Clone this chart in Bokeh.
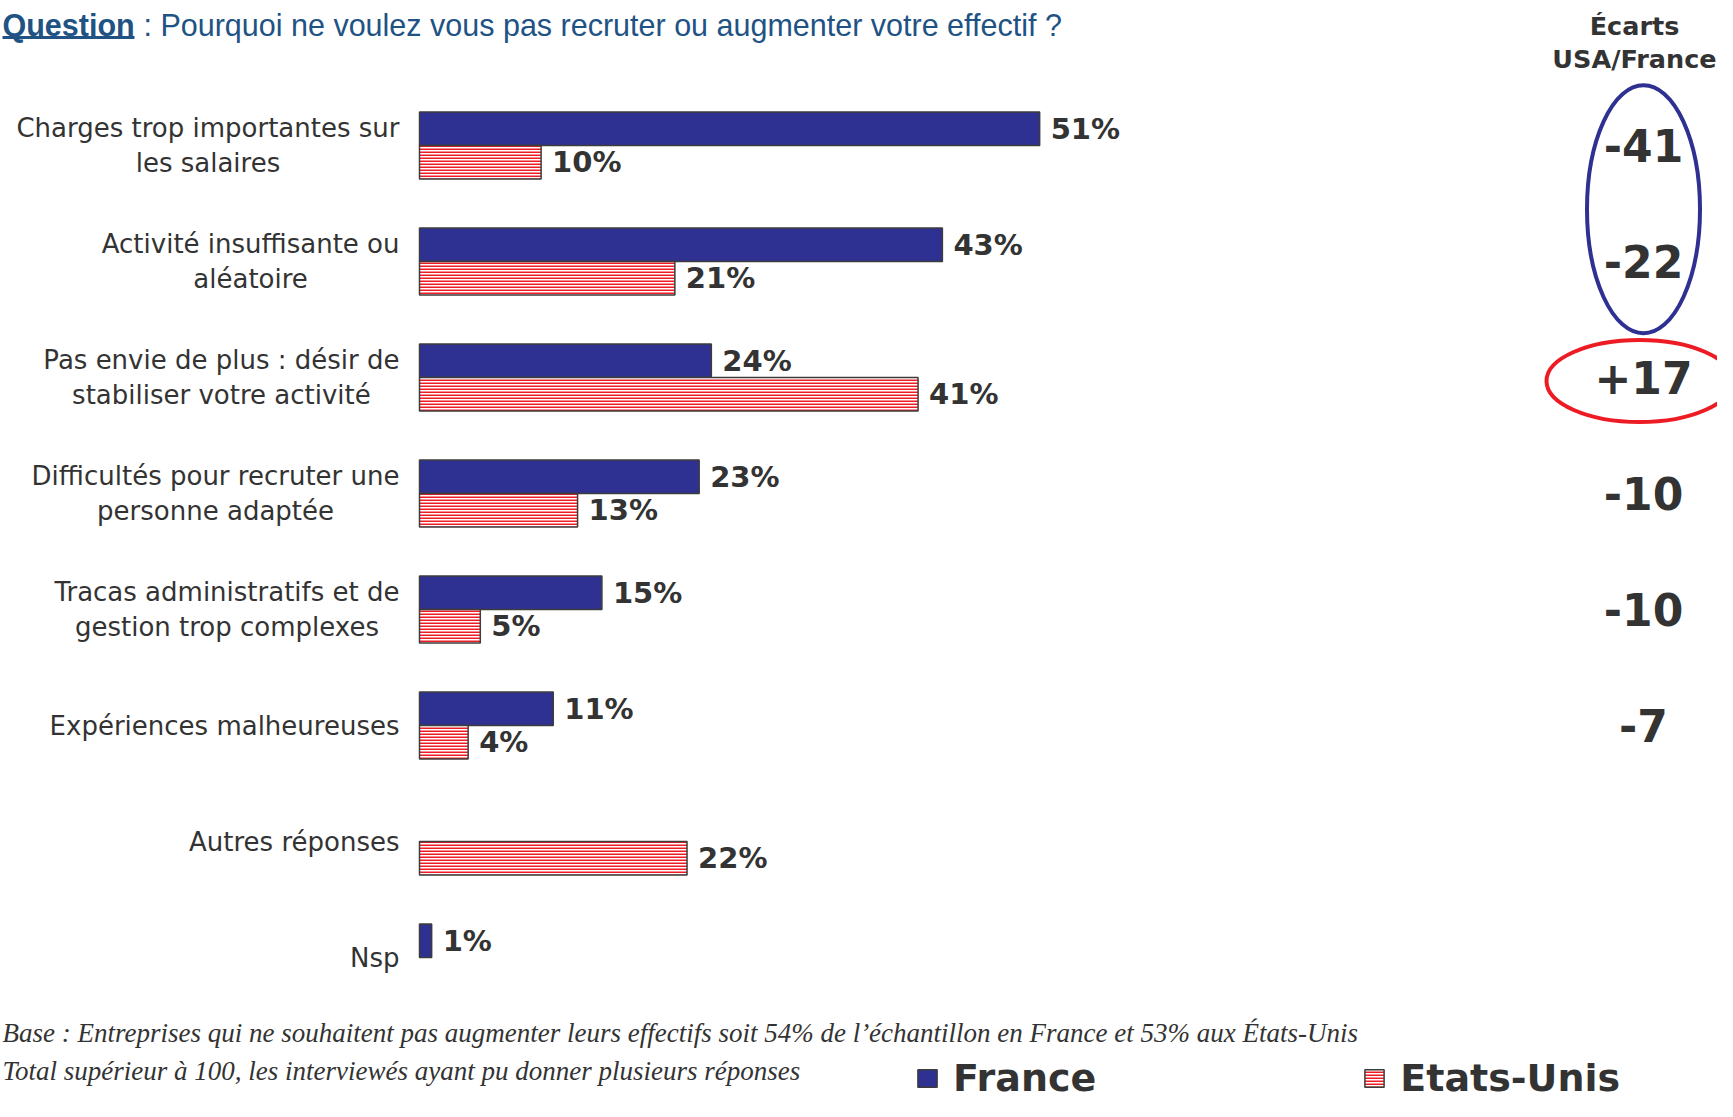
from bokeh.plotting import figure
from bokeh.models import Range1d, ColumnDataSource, Label, Legend, LegendItem
from bokeh.embed import file_html
from bokeh.resources import INLINE
from bokeh.core.properties import value

# ---------------- data ----------------
categories = [
    "Charges trop importantes sur\nles salaires",
    "Activité insuffisante ou\naléatoire",
    "Pas envie de plus : désir de\nstabiliser votre activité",
    "Difficultés pour recruter une\npersonne adaptée",
    "Tracas administratifs et de\ngestion trop complexes",
    "Expériences malheureuses",
    "Autres réponses",
    "Nsp",
]
france = [51, 43, 24, 23, 15, 11, None, 1]
usa = [10, 21, 41, 13, 5, 4, 22, None]
ecarts = ["-41", "-22", "+17", "-10", "-10", "-7"]
series_names = ["France", "Etats-Unis"]
ecart_title = "Écarts\nUSA/France"
question_word = "Question"
question_text = ": Pourquoi ne voulez vous pas recruter ou augmenter votre effectif ?"
note_lines = [
    "Base : Entreprises qui ne souhaitent pas augmenter leurs effectifs soit 54% de l\u2019échantillon en France et 53% aux États-Unis",
    "Total supérieur à 100, les interviewés ayant pu donner plusieurs réponses",
]

# ---------------- layout constants ----------------
W, H = 1717, 1101
PX_PCT = 12.16      # pixels per percentage point
X0 = 419            # pixel position of 0%
GROUP_PX = 116      # pixels per category
Y0 = 145            # pixel position of first category
BAR_H = 0.289
ECART_X = (1643 - X0) / PX_PCT
HEAD_X = (1634 - X0) / PX_PCT

FONT = "DejaVu Sans"
TXT = "#333333"
BLUE = "#2E3192"
RED = "#ED1C24"

p = figure(width=W, height=H,
           x_range=Range1d(-X0 / PX_PCT, (W - X0) / PX_PCT),
           y_range=Range1d((H - Y0) / GROUP_PX, -Y0 / GROUP_PX),
           output_backend="svg", toolbar_location=None, min_border=0,
           x_axis_location=None, y_axis_location=None,
           outline_line_color=None, background_fill_color="white",
           border_fill_color="white")
p.xgrid.visible = False
p.ygrid.visible = False

fr_idx = [i for i, v in enumerate(france) if v is not None]
us_idx = [i for i, v in enumerate(usa) if v is not None]
fr_src = ColumnDataSource(dict(
    y=[i - BAR_H / 2 for i in fr_idx],
    v=[france[i] for i in fr_idx],
    lab=[f"{france[i]}%" for i in fr_idx]))
us_src = ColumnDataSource(dict(
    y=[i + BAR_H / 2 for i in us_idx],
    v=[usa[i] for i in us_idx],
    lab=[f"{usa[i]}%" for i in us_idx]))

r_fr = p.hbar(y="y", left=0, right="v", height=BAR_H, source=fr_src,
              fill_color=BLUE, line_color="#3c3c3c", line_width=1.5)
r_us = p.hbar(y="y", left=0, right="v", height=BAR_H, source=us_src,
              fill_color="white", hatch_pattern="horizontal_line",
              hatch_color=RED, hatch_scale=3, hatch_weight=2,
              line_color="#3c3c3c", line_width=1.5)

for src in (fr_src, us_src):
    p.text(x="v", y="y", text="lab", source=src, x_offset=11,
           text_align="left", text_baseline="middle",
           text_font=value(FONT), text_font_style="bold",
           text_font_size="29px", text_color=TXT)

cat_src = ColumnDataSource(dict(y=list(range(len(categories))),
                                x=[0] * len(categories), t=categories))
p.text(x="x", y="y", text="t", source=cat_src, x_offset=-20,
       anchor="center_right", text_align="center", text_baseline="middle",
       text_line_height=1.15, text_font=value(FONT),
       text_font_size="26px", text_color=TXT)

# differences column
ec_src = ColumnDataSource(dict(y=list(range(len(ecarts))),
                               x=[ECART_X] * len(ecarts), t=ecarts))
p.text(x="x", y="y", text="t", source=ec_src, text_align="center",
       text_baseline="middle", text_font=value(FONT), text_font_style="bold",
       text_font_size="44px", text_color=TXT)
p.text(x=[HEAD_X], y=[-0.884], text=[ecart_title], text_align="center",
       text_baseline="middle", text_line_height=1.1, text_font=value(FONT),
       text_font_style="bold", text_font_size="25.5px", text_color=TXT)

p.ellipse(x=[ECART_X], y=[0.55], width=[113], height=[248],
          width_units="screen", height_units="screen",
          fill_color=None, line_color=BLUE, line_width=4)
p.ellipse(x=[ECART_X - 4 / PX_PCT], y=[2.03], width=[186], height=[82],
          width_units="screen", height_units="screen",
          fill_color=None, line_color=RED, line_width=4)

# title
TITLE_C = "#215284"
TITLE_BASE = 24
UNDERLINE_Y = 37
p.add_layout(Label(x=2, y=H - TITLE_BASE, x_units="screen", y_units="screen",
                   text=question_word, text_font="Liberation Sans",
                   text_font_style="bold", text_font_size="30.5px",
                   text_color=TITLE_C, text_baseline="alphabetic"))
p.add_layout(Label(x=143, y=H - TITLE_BASE, x_units="screen", y_units="screen",
                   text=question_text, text_font="Liberation Sans",
                   text_font_size="30.5px", text_color=TITLE_C,
                   text_baseline="alphabetic"))
p.segment(x0=[(2 - X0) / PX_PCT], x1=[(134 - X0) / PX_PCT],
          y0=[(UNDERLINE_Y - Y0) / GROUP_PX], y1=[(UNDERLINE_Y - Y0) / GROUP_PX],
          line_color=TITLE_C, line_width=3)

# footnotes
for k, txt in enumerate(note_lines):
    p.add_layout(Label(x=2, y=H - 1032 - 38 * k, x_units="screen", y_units="screen",
                       text=txt, text_font="Liberation Serif",
                       text_font_style="italic", text_font_size="27px",
                       text_color=TXT, text_baseline="middle"))

legend = Legend(items=[LegendItem(label=series_names[0], renderers=[r_fr]),
                       LegendItem(label=series_names[1], renderers=[r_us])],
                orientation="horizontal", location=(915, 1),
                glyph_width=24, glyph_height=22, label_standoff=14,
                spacing=266, padding=0, margin=0,
                border_line_color=None, background_fill_alpha=0,
                label_text_font=FONT, label_text_font_style="bold",
                label_text_font_size="38px", label_text_color=TXT)
p.add_layout(legend)

open("out.html", "w").write(file_html(p, INLINE))
